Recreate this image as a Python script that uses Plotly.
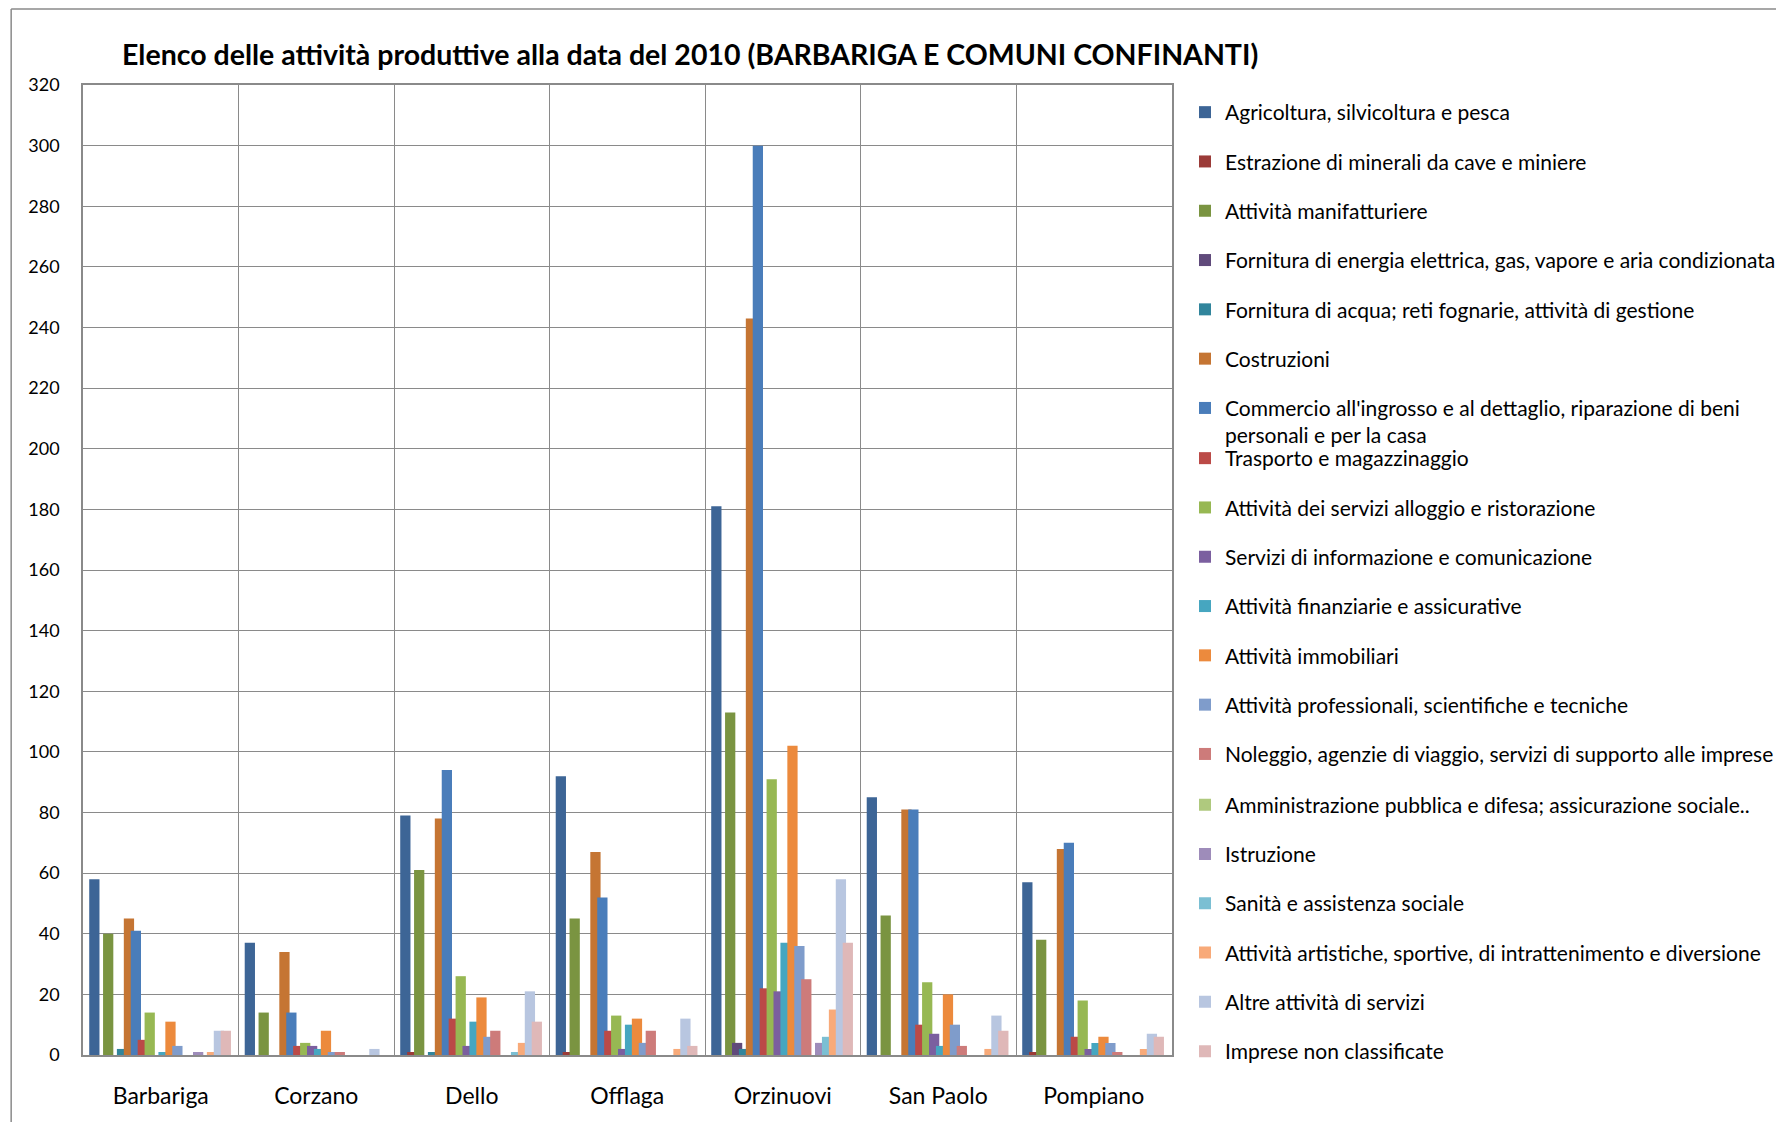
import plotly.graph_objects as go

comuni = ["Barbariga", "Corzano", "Dello", "Offlaga", "Orzinuovi", "San Paolo", "Pompiano"]

settori = [
    "Agricoltura, silvicoltura e pesca",
    "Estrazione di minerali da cave e miniere",
    "Attività manifatturiere",
    "Fornitura di energia elettrica, gas, vapore e aria condizionata",
    "Fornitura di acqua; reti fognarie, attività di gestione",
    "Costruzioni",
    "Commercio all'ingrosso e al dettaglio, riparazione di beni<br>personali e per la casa",
    "Trasporto e magazzinaggio",
    "Attività dei servizi alloggio e ristorazione",
    "Servizi di informazione e comunicazione",
    "Attività finanziarie e assicurative",
    "Attività immobiliari",
    "Attività professionali, scientifiche e tecniche",
    "Noleggio, agenzie di viaggio, servizi di supporto alle imprese",
    "Amministrazione pubblica e difesa; assicurazione sociale..",
    "Istruzione",
    "Sanità e assistenza sociale",
    "Attività artistiche, sportive, di intrattenimento e diversione",
    "Altre attività di servizi",
    "Imprese non classificate",
]

# values per sector, order of comuni: Barbariga, Corzano, Dello, Offlaga, Orzinuovi, San Paolo, Pompiano
agricoltura     = [58, 37, 79, 92, 181, 85, 57]
estrazione      = [0, 0, 1, 1, 0, 0, 1]
manifatturiere  = [40, 14, 61, 45, 113, 46, 38]
energia         = [0, 0, 0, 0, 4, 0, 0]
acqua           = [2, 0, 1, 0, 2, 0, 0]
costruzioni     = [45, 34, 78, 67, 243, 81, 68]
commercio       = [41, 14, 94, 52, 300, 81, 70]
trasporto       = [5, 3, 12, 8, 22, 10, 6]
alloggio        = [14, 4, 26, 13, 91, 24, 18]
informazione    = [0, 3, 3, 2, 21, 7, 2]
finanziarie     = [1, 2, 11, 10, 37, 3, 4]
immobiliari     = [11, 8, 19, 12, 102, 20, 6]
professionali   = [3, 1, 6, 4, 36, 10, 4]
noleggio        = [0, 1, 8, 8, 25, 3, 1]
amministrazione = [0, 0, 0, 0, 0, 0, 0]
istruzione      = [1, 0, 0, 0, 4, 0, 0]
sanita          = [0, 0, 1, 0, 6, 0, 0]
artistiche      = [1, 0, 4, 2, 15, 2, 2]
altre           = [8, 2, 21, 12, 58, 13, 7]
non_classificate = [8, 0, 11, 3, 37, 8, 6]

serie = [agricoltura, estrazione, manifatturiere, energia, acqua, costruzioni, commercio,
         trasporto, alloggio, informazione, finanziarie, immobiliari, professionali, noleggio,
         amministrazione, istruzione, sanita, artistiche, altre, non_classificate]

colori = ["#3D6596", "#9B3B38", "#7A9441", "#604A7B", "#31859C", "#C57533", "#4A7DBA",
          "#BB4A47", "#97B853", "#7B5F9F", "#46A6C0", "#EC8A3D", "#7F9CCB", "#CD7B7A",
          "#AFC97E", "#9E8CBA", "#7BBFD3", "#F8AA79", "#B8C6E0", "#DFB8B8"]

y_ticks = list(range(0, 321, 20))

FONT = "Lato, Carlito, 'Open Sans', sans-serif"
W, H = 1784, 1122
L, R, T, B = 75, 1166, 77, 1047

fig = go.Figure()
step = 0.0445
bw = 0.066
for i, (name, vals, col) in enumerate(zip(settori, serie, colori)):
    leg = "legend" if i < 7 else ("legend2" if i < 14 else "legend3")
    fig.add_trace(go.Bar(
        x=comuni, y=vals, name=name,
        marker=dict(color=col, line=dict(width=0)),
        offset=-0.46 + i * step, width=bw,
        legendgroup=str(i),
        legend=leg,
    ))

grid_col = "#8a8a8a"
LEG_STEP = 49.5
leg_x = 1177
leg_y1 = 84
leg_y2 = 430
leg_y3 = leg_y2 + 7 * LEG_STEP


def legend_cfg(ytop):
    return dict(xref="container", yref="container", x=leg_x / W, xanchor="left",
                y=1 - ytop / H, yanchor="top", tracegroupgap=19, itemwidth=30,
                valign="top", font=dict(size=21, family=FONT, color="black"),
                bgcolor="rgba(0,0,0,0)")


fig.update_layout(
    width=W, height=H,
    margin=dict(l=L, r=W - R, t=T, b=H - B),
    barmode="overlay",
    paper_bgcolor="white", plot_bgcolor="white",
    font=dict(family=FONT, color="black"),
    title=dict(text="<b>Elenco delle attività produttive alla data del 2010 (BARBARIGA E COMUNI CONFINANTI)</b>",
               x=114 / W, xanchor="left", xref="container",
               y=1 - 47 / H, yanchor="middle", yref="container",
               font=dict(size=28.5, family=FONT, color="black")),
    xaxis=dict(type="category", range=[-0.5, 6.5], tickson="boundaries",
               showgrid=True, gridcolor=grid_col, gridwidth=1.3,
               showline=True, linecolor=grid_col, linewidth=1.5, mirror=True,
               ticks="", tickfont=dict(size=23, family=FONT, color="black"),
               ticklabelstandoff=20),
    yaxis=dict(range=[0, 320], tickvals=y_ticks, ticktext=[str(v) for v in y_ticks],
               showgrid=True, gridcolor=grid_col, gridwidth=1.3,
               showline=True, linecolor=grid_col, linewidth=1.5, mirror=True,
               ticks="", tickfont=dict(size=18, family=FONT, color="black"),
               ticklabelstandoff=18, zeroline=False),
    legend=legend_cfg(leg_y1),
    legend2=legend_cfg(leg_y2),
    legend3=legend_cfg(leg_y3),
    shapes=[
        dict(type="line", xref="paper", yref="paper",
             x0=(3 - L) / (R - L), x1=(W + 5 - L) / (R - L),
             y0=(B - 1) / (B - T), y1=(B - 1) / (B - T),
             line=dict(color=grid_col, width=1.5)),
        dict(type="line", xref="paper", yref="paper",
             x0=(3 - L) / (R - L), x1=(3 - L) / (R - L),
             y0=(B - 1) / (B - T), y1=(B - H - 5) / (B - T),
             line=dict(color=grid_col, width=1.5)),
    ],
)

fig.write_html("out.html")
